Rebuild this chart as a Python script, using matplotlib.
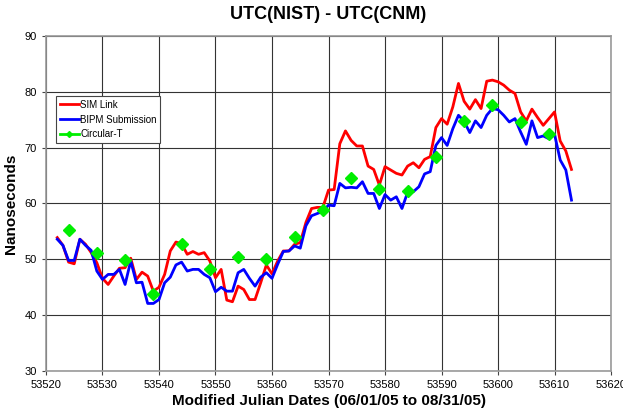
import matplotlib
matplotlib.use('Agg')
import matplotlib.pyplot as plt
from matplotlib.lines import Line2D

plt.rcParams['font.family'] = ['Liberation Sans', 'DejaVu Sans']

# daily MJD 53522 .. 53613
mjd = list(range(53522, 53614))

sim_link = [53.9, 52.5, 49.5, 49.2, 53.6, 52.7, 51.2, 49.4, 46.6, 45.5,
            47.0, 48.4, 48.5, 50.2, 46.4, 47.7, 47.0, 44.3, 45.0, 47.3,
            51.5, 53.1, 52.8, 50.9, 51.4, 50.9, 51.2, 49.7, 46.7, 48.2,
            42.7, 42.4, 45.2, 44.6, 42.8, 42.8, 45.8, 49.0, 47.4, 49.7,
            51.5, 51.5, 52.7, 53.0, 56.6, 59.1, 59.3, 59.3, 62.4, 62.5,
            70.7, 73.0, 71.3, 70.3, 70.3, 66.7, 66.1, 63.3, 66.6, 66.0,
            65.4, 65.1, 66.7, 67.3, 66.4, 67.9, 68.4, 73.6, 75.2, 74.2,
            77.3, 81.5, 78.3, 76.9, 78.6, 77.0, 81.9, 82.1, 81.8, 81.2,
            80.3, 79.7, 76.4, 74.8, 76.9, 75.4, 74.0, 75.2, 76.4, 71.2,
            69.4, 66.1]

bipm = [53.6, 52.5, 49.8, 49.8, 53.6, 52.5, 51.6, 47.9, 46.4, 47.3,
        47.3, 48.2, 45.5, 49.7, 45.8, 45.9, 42.1, 42.1, 42.8, 45.8,
        46.8, 49.0, 49.5, 47.9, 48.2, 48.2, 47.3, 46.7, 44.2, 45.0,
        44.3, 44.3, 47.6, 48.2, 46.6, 45.2, 46.8, 47.6, 46.6, 49.1,
        51.4, 51.5, 52.4, 52.0, 56.0, 57.8, 58.2, 58.6, 59.7, 59.6,
        63.6, 62.8, 62.9, 62.8, 63.9, 61.8, 61.8, 59.1, 61.6, 60.6,
        61.2, 59.1, 62.0, 62.1, 63.0, 65.3, 65.7, 70.4, 71.8, 70.4,
        73.4, 75.8, 74.7, 72.7, 74.8, 73.6, 75.8, 77.0, 76.8, 75.8,
        74.6, 75.2, 72.8, 70.6, 74.8, 71.8, 72.1, 71.6, 72.4, 67.8,
        66.0, 60.6]

circt_mjd = [53524, 53529, 53534, 53539, 53544, 53549, 53554, 53559, 53564,
             53569, 53574, 53579, 53584, 53589, 53594, 53599, 53604, 53609]
circt = [55.2, 51.2, 49.8, 43.8, 52.8, 48.2, 50.4, 50.1, 54.0,
         58.8, 64.5, 62.6, 62.2, 68.4, 74.7, 77.6, 74.6, 72.5]

fig = plt.figure(figsize=(6.23, 4.17), dpi=100)
ax = fig.add_axes([0.0738, 0.1103, 0.907, 0.8034])

ax.plot(mjd, sim_link, color='#ff0000', lw=2, zorder=3)
ax.plot(mjd, bipm, color='#0000ff', lw=2, zorder=4)
ax.plot(circt_mjd, circt, ls='none', marker='D', markersize=6.5,
        color='#00ee00', markeredgecolor='#00ee00', zorder=5)

ax.set_xlim(53520, 53620)
ax.set_ylim(30, 90)
ax.set_xticks(range(53520, 53621, 10))
ax.set_yticks(range(30, 91, 10))
ax.tick_params(labelsize=8, length=3, direction='out', color='#444444')
ax.grid(True, color='#333333', lw=0.8)
ax.set_axisbelow(True)
for s in ax.spines.values():
    s.set_color('#999999')
    s.set_linewidth(1.2)

ax.set_title('UTC(NIST) - UTC(CNM)', fontsize=13, fontweight='bold', pad=12)
ax.set_xlabel('Modified Julian Dates (06/01/05 to 08/31/05)', fontsize=11,
              fontweight='bold', labelpad=3)
ax.set_ylabel('Nanoseconds', fontsize=11, fontweight='bold')
ax.yaxis.set_label_coords(-0.05, 0.5)

handles = [
    Line2D([], [], color='#ff0000', lw=2),
    Line2D([], [], color='#0000ff', lw=2),
    Line2D([], [], color='#00ee00', lw=2, marker='D', markersize=3),
]
leg = ax.legend(handles, ['SIM Link', 'BIPM Submission', 'Circular-T'],
                loc='upper left', bbox_to_anchor=(0.018, 0.82), fontsize=7,
                fancybox=False, framealpha=1, edgecolor='#444444',
                handlelength=2.0, handletextpad=0.15, borderpad=0.35,
                labelspacing=0.5, borderaxespad=0)
leg.get_frame().set_linewidth(0.8)

fig.savefig('out.png', dpi=100)
